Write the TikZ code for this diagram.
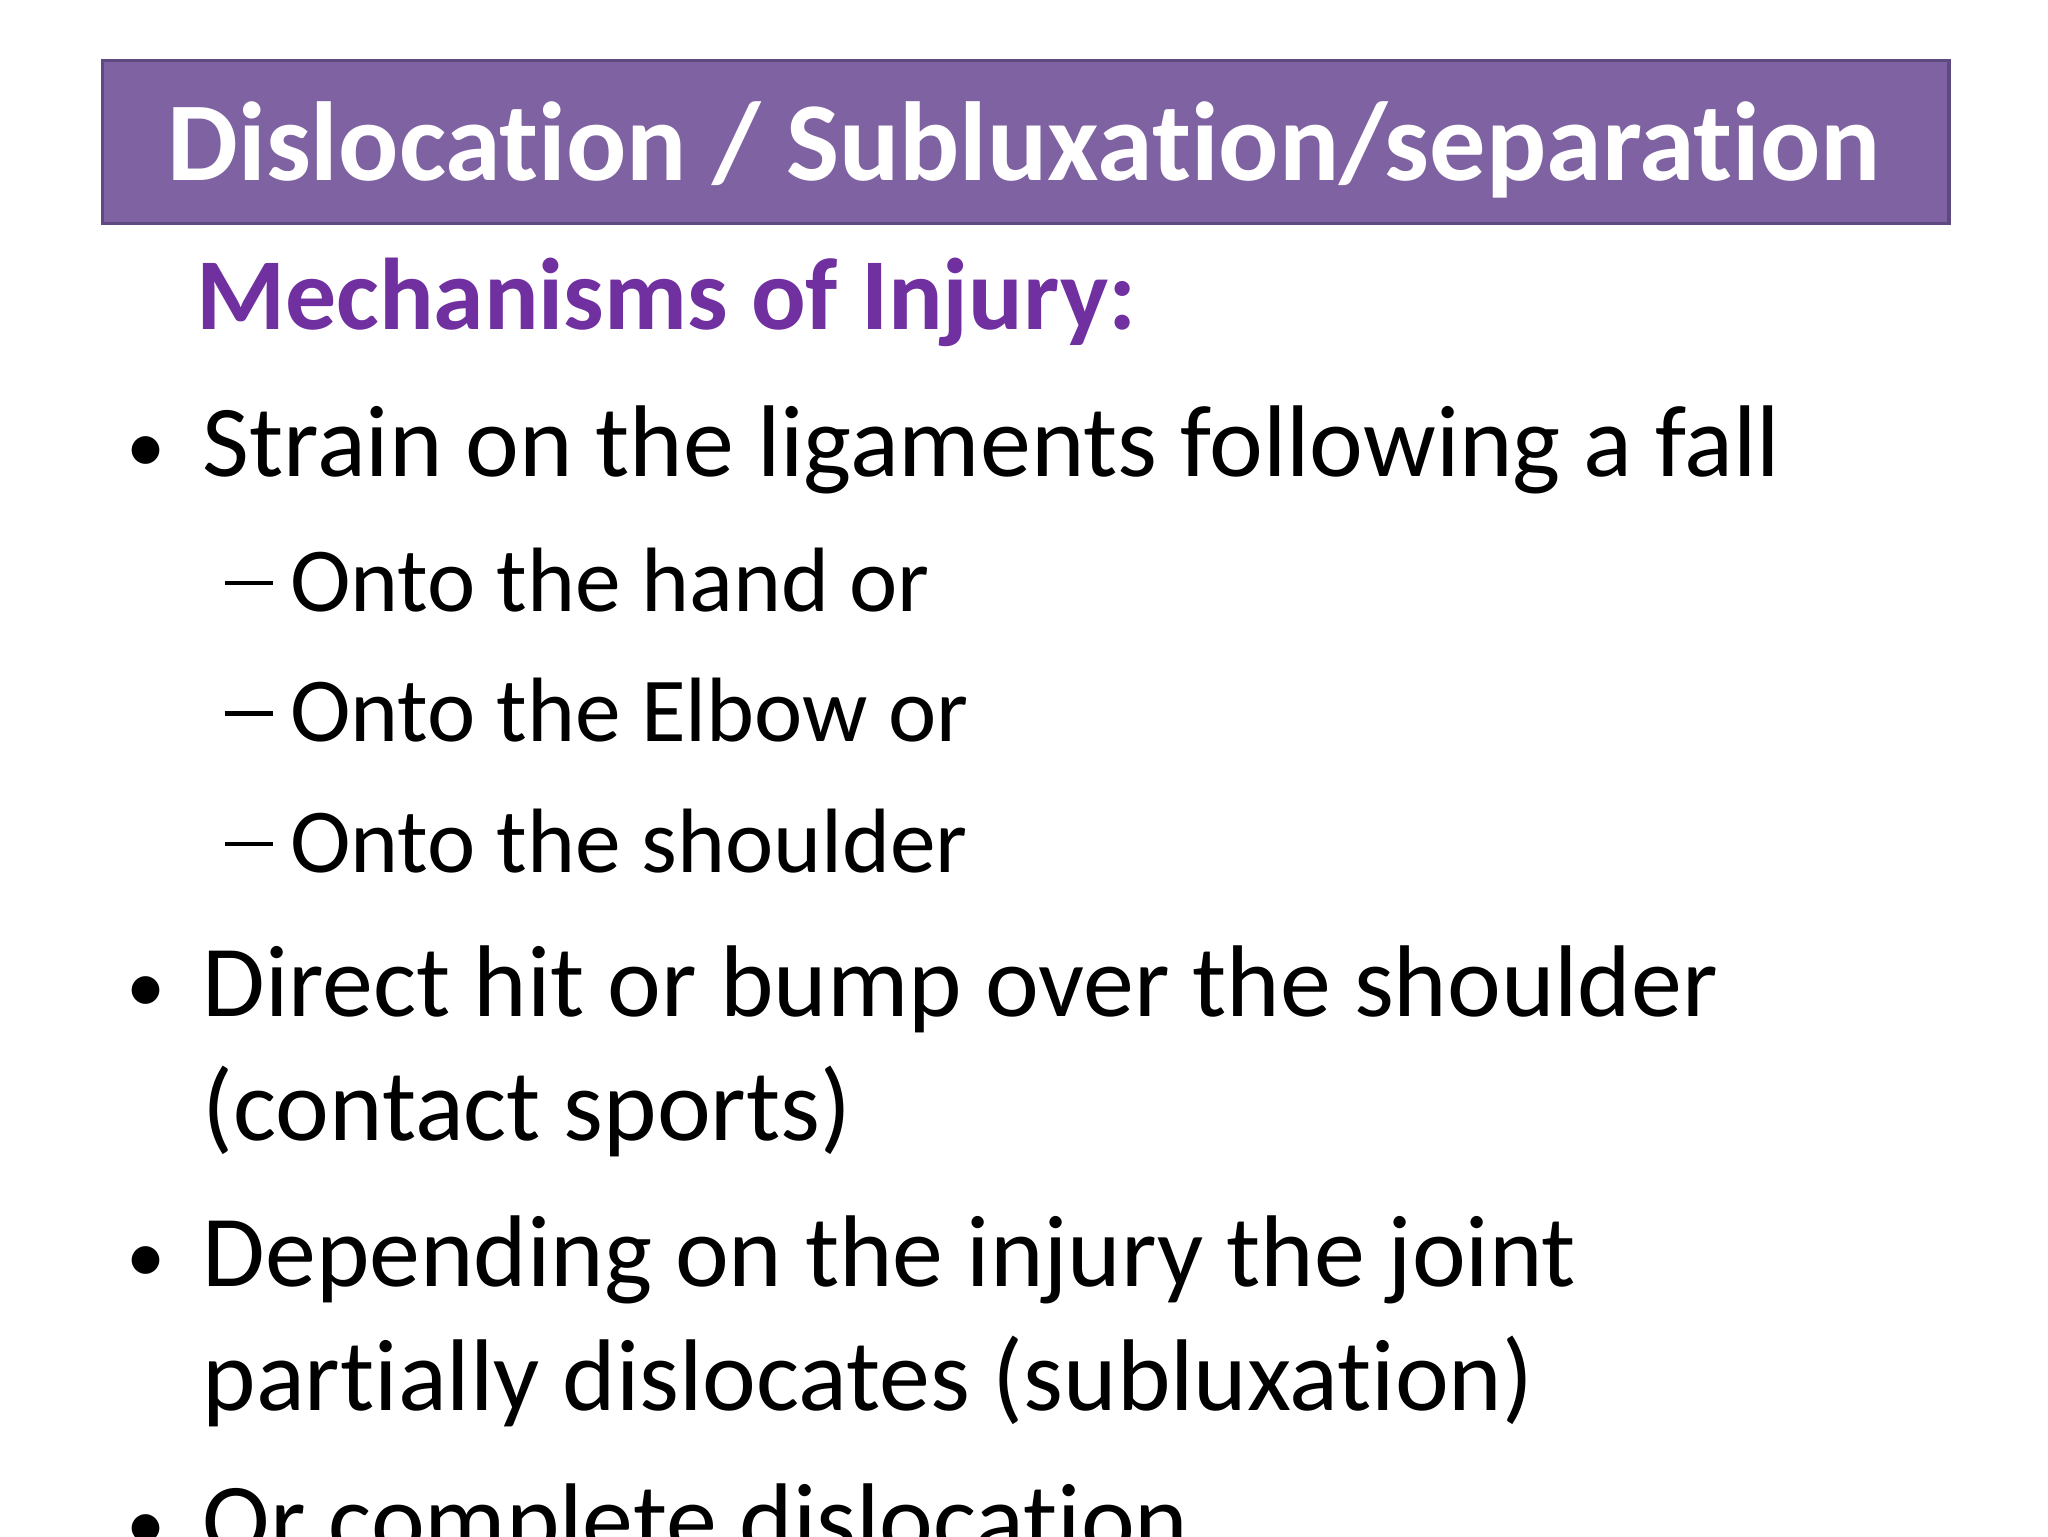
\documentclass[tikz,border=0pt]{standalone}
\usepackage{fontspec}
\setmainfont[Ligatures={NoCommon}]{Carlito}
\definecolor{titlefill}{HTML}{7E62A1}
\definecolor{titledraw}{HTML}{5E4A80}
\definecolor{mechcol}{HTML}{7030A0}
\begin{document}
\begin{tikzpicture}[x=1pt,y=1pt,
  txt/.style={anchor=base west,inner sep=0pt,font=\fontsize{78}{90}\selectfont},
  bul/.style={anchor=base west,inner sep=0pt,font=\fontsize{60}{70}\selectfont},
  subtxt/.style={anchor=base west,inner sep=0pt,font=\fontsize{70}{84}\selectfont}]
\useasboundingbox (0,0) rectangle (1568,-1176);
\fill[white] (0,0) rectangle (1568,-1176);
\node[draw=titledraw,line width=2.5pt,fill=titlefill,minimum width=1414pt,minimum height=125pt,anchor=north west,inner sep=0pt] (title) at (77,-45) {};
\node[text=white,font=\bfseries\fontsize{86}{100}\selectfont,inner sep=0pt,anchor=base] (titletext) at (784,-138) {Dislocation / Subluxation/separation};
\node[anchor=base west,inner sep=0pt,text=mechcol,font=\bfseries\fontsize{78}{90}\selectfont] (mech) at (150,-252) {Mechanisms of Injury:};
\node[bul] (b1) at (97,-362) {•};
\node[txt] (t1) at (155,-365) {Strain on the ligaments following a fall};
\node[subtxt] (d1) at (172,-468) {\rule[20pt]{37pt}{3.5pt}};
\node[subtxt] (s1) at (222,-468) {Onto the hand or};
\node[subtxt] (d2) at (172,-568) {\rule[20pt]{37pt}{3.5pt}};
\node[subtxt] (s2) at (222,-568) {Onto the Elbow or};
\node[subtxt] (d3) at (172,-668) {\rule[20pt]{37pt}{3.5pt}};
\node[subtxt] (s3) at (222,-668) {Onto the shoulder};
\node[bul] (b2) at (97,-775) {•};
\node[txt] (t2) at (155,-778) {Direct hit or bump over the shoulder};
\node[txt] (t2b) at (155,-873) {(contact sports)};
\node[bul] (b3) at (97,-982) {•};
\node[txt] (t3) at (155,-985) {Depending on the injury the joint};
\node[txt] (t3b) at (155,-1080) {partially dislocates (subluxation)};
\node[bul] (b4) at (97,-1187) {•};
\node[txt] (t4) at (155,-1190) {Or complete dislocation};
\end{tikzpicture}
\end{document}
